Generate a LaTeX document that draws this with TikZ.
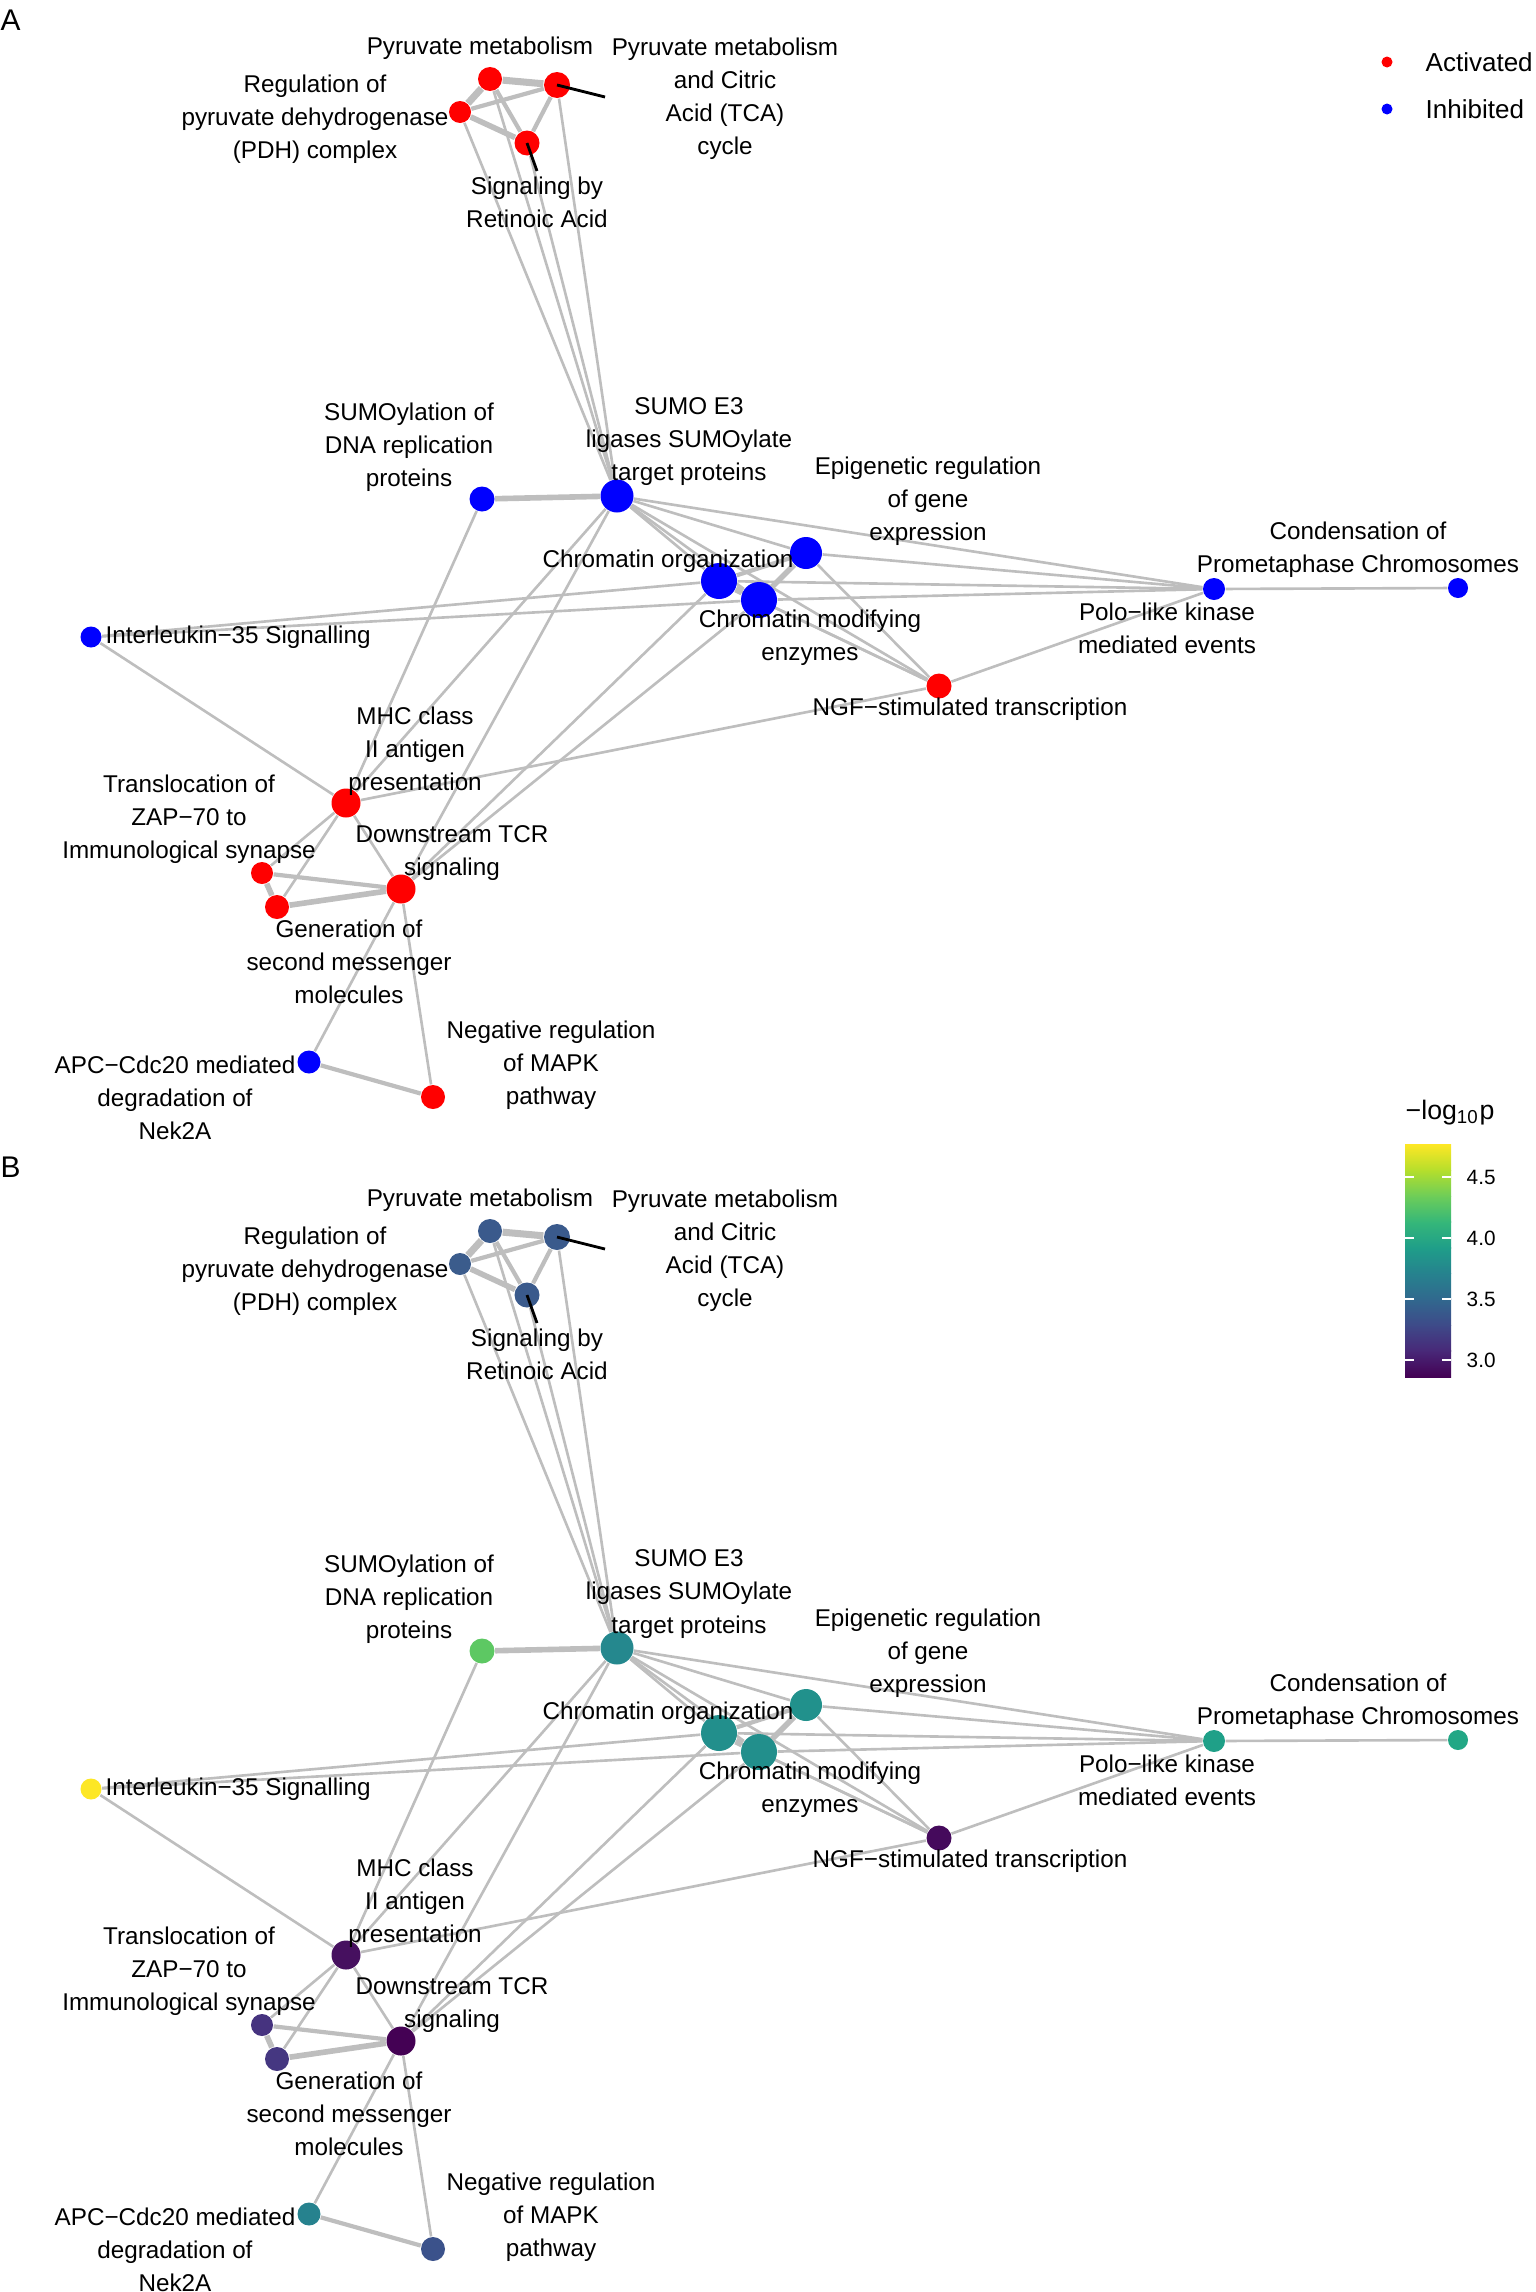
\documentclass[tikz,border=0pt]{standalone}
\usepackage{fontspec}
\setmainfont{Liberation Sans}
\usetikzlibrary{backgrounds}

% Colours of panel A (activated / inhibited)
\colorlet{Apm}{red}   \colorlet{Apmt}{red}  \colorlet{Apdh}{red}
\colorlet{Ara}{red}   \colorlet{Angf}{red}  \colorlet{Amhc}{red}
\colorlet{Azap}{red}  \colorlet{Agsm}{red}  \colorlet{Atcr}{red}
\colorlet{Amapk}{red}
\colorlet{Asdna}{blue} \colorlet{Asumo}{blue} \colorlet{Aepi}{blue}
\colorlet{Aco}{blue}   \colorlet{Acm}{blue}   \colorlet{Aplk}{blue}
\colorlet{Acpc}{blue}  \colorlet{Ail}{blue}   \colorlet{Aapc}{blue}
% Colours of panel B (-log10 p, viridis)
\definecolor{Bpm}{HTML}{3A5A8C}   \definecolor{Bpmt}{HTML}{3A5A8C}
\definecolor{Bpdh}{HTML}{3B5C8C}  \definecolor{Bra}{HTML}{3A5A8C}
\definecolor{Bsdna}{HTML}{5DC863} \definecolor{Bsumo}{HTML}{25888E}
\definecolor{Bepi}{HTML}{21918C}  \definecolor{Bco}{HTML}{228F8C}
\definecolor{Bcm}{HTML}{228F8C}   \definecolor{Bplk}{HTML}{1FA088}
\definecolor{Bcpc}{HTML}{22A785}  \definecolor{Bil}{HTML}{FDE725}
\definecolor{Bngf}{HTML}{450A5C}  \definecolor{Bmhc}{HTML}{46105F}
\definecolor{Bzap}{HTML}{46337F}  \definecolor{Bgsm}{HTML}{453781}
\definecolor{Btcr}{HTML}{440154}  \definecolor{Bapc}{HTML}{26828E}
\definecolor{Bmapk}{HTML}{3B528B}
% viridis stops for the colour bar
\definecolor{vir0}{HTML}{440154} \definecolor{vir1}{HTML}{482878}
\definecolor{vir2}{HTML}{3E4A89} \definecolor{vir3}{HTML}{31688E}
\definecolor{vir4}{HTML}{26828E} \definecolor{vir5}{HTML}{1F9E89}
\definecolor{vir6}{HTML}{35B779} \definecolor{vir7}{HTML}{6DCD59}
\definecolor{vir8}{HTML}{B4DE2C} \definecolor{vir9}{HTML}{FDE725}
\definecolor{linkgray}{HTML}{BEBEBE}

\tikzset{pw/.style={circle, inner sep=0pt, draw=none},
         link/.style={draw=linkgray, line width=0.75pt},
         leader/.style={draw=black, line width=0.8pt},
         lab/.style={inner sep=0pt, align=center,
                     font=\fontsize{6.9}{9.4}\selectfont}}

% One enrichment network, #1 = panel prefix
\newcommand{\pathnet}[1]{%
  % Draw the pathways
  \node[pw, minimum size=0.24cm, fill=#1pm]   at (4.90,-0.79)  (#1pm)   {};
  \node[pw, minimum size=0.26cm, fill=#1pmt]  at (5.57,-0.85)  (#1pmt)  {};
  \node[pw, minimum size=0.22cm, fill=#1pdh]  at (4.60,-1.12)  (#1pdh)  {};
  \node[pw, minimum size=0.25cm, fill=#1ra]   at (5.27,-1.43)  (#1ra)   {};
  \node[pw, minimum size=0.25cm, fill=#1sdna] at (4.82,-4.99)  (#1sdna) {};
  \node[pw, minimum size=0.33cm, fill=#1sumo] at (6.17,-4.96)  (#1sumo) {};
  \node[pw, minimum size=0.32cm, fill=#1epi]  at (8.06,-5.53)  (#1epi)  {};
  \node[pw, minimum size=0.36cm, fill=#1co]   at (7.19,-5.81)  (#1co)   {};
  \node[pw, minimum size=0.36cm, fill=#1cm]   at (7.59,-6.00)  (#1cm)   {};
  \node[pw, minimum size=0.22cm, fill=#1plk]  at (12.14,-5.89) (#1plk)  {};
  \node[pw, minimum size=0.20cm, fill=#1cpc]  at (14.58,-5.88) (#1cpc)  {};
  \node[pw, minimum size=0.21cm, fill=#1il]   at (0.91,-6.37)  (#1il)   {};
  \node[pw, minimum size=0.25cm, fill=#1ngf]  at (9.39,-6.86)  (#1ngf)  {};
  \node[pw, minimum size=0.29cm, fill=#1mhc]  at (3.46,-8.03)  (#1mhc)  {};
  \node[pw, minimum size=0.22cm, fill=#1zap]  at (2.62,-8.73)  (#1zap)  {};
  \node[pw, minimum size=0.24cm, fill=#1gsm]  at (2.77,-9.07)  (#1gsm)  {};
  \node[pw, minimum size=0.29cm, fill=#1tcr]  at (4.01,-8.89)  (#1tcr)  {};
  \node[pw, minimum size=0.23cm, fill=#1apc]  at (3.09,-10.62) (#1apc)  {};
  \node[pw, minimum size=0.24cm, fill=#1mapk] at (4.33,-10.97) (#1mapk) {};
  % Connect the pathways
  \begin{scope}[on background layer]
    \draw[link, line width=2pt]
      (#1pm)   edge (#1pmt)
      (#1pm)   edge (#1pdh)
      (#1co)   edge (#1cm);
    \draw[link, line width=1.6pt]
      (#1pdh)  edge (#1ra)
      (#1sdna) edge (#1sumo)
      (#1zap)  edge (#1gsm)
      (#1gsm)  edge (#1tcr)
      (#1epi)  edge (#1cm);
    \draw[link, line width=1.2pt]
      (#1pdh)  edge (#1pmt)
      (#1pm)   edge (#1ra)
      (#1pmt)  edge (#1ra)
      (#1zap)  edge (#1tcr)
      (#1epi)  edge (#1co)
      (#1apc)  edge (#1mapk);
    \draw[link]
      (#1pdh)  edge (#1sumo)
      (#1pm)   edge (#1sumo)
      (#1ra)   edge (#1sumo)
      (#1pmt)  edge (#1sumo)
      (#1sumo) edge (#1epi)
      (#1sumo) edge (#1co)
      (#1sumo) edge (#1cm)
      (#1sumo) edge (#1ngf)
      (#1sumo) edge (#1plk)
      (#1sumo) edge (#1mhc)
      (#1sumo) edge (#1tcr)
      (#1sdna) edge (#1mhc)
      (#1epi)  edge (#1plk)
      (#1co)   edge (#1plk)
      (#1cm)   edge (#1plk)
      (#1plk)  edge (#1cpc)
      (#1epi)  edge (#1ngf)
      (#1co)   edge (#1ngf)
      (#1cm)   edge (#1ngf)
      (#1il)   edge (#1co)
      (#1il)   edge (#1cm)
      (#1il)   edge (#1mhc)
      (#1mhc)  edge (#1ngf)
      (#1plk)  edge (#1ngf)
      (#1mhc)  edge (#1zap)
      (#1mhc)  edge (#1gsm)
      (#1mhc)  edge (#1tcr)
      (#1co)   edge (#1tcr)
      (#1cm)   edge (#1tcr)
      (#1tcr)  edge (#1apc)
      (#1tcr)  edge (#1mapk);
  \end{scope}
  % Label leaders
  \coordinate (#1pmttip) at (6.05,-0.97);
  \coordinate (#1ratip)  at (5.37,-1.71);
  \draw[leader] (#1pmt.center) -- (#1pmttip);
  \draw[leader] (#1ra.center) -- (#1ratip);
  % Labels
  \node[lab] at (4.80,-0.48)  (#1pmlab)   {Pyruvate metabolism};
  \node[lab] at (7.25,-0.99)  (#1pmtlab)  {Pyruvate metabolism\\and Citric\\Acid (TCA)\\cycle};
  \node[lab] at (3.15,-1.19)  (#1pdhlab)  {Regulation of\\pyruvate dehydrogenase\\(PDH) complex};
  \node[lab] at (5.37,-2.02)  (#1ralab)   {Signaling by\\Retinoic Acid};
  \node[lab] at (4.09,-4.47)  (#1sdnalab) {SUMOylation of\\DNA replication\\proteins};
  \node[lab] at (6.89,-4.42)  (#1sumolab) {SUMO E3\\ligases SUMOylate\\target proteins};
  \node[lab] at (9.28,-5.01)  (#1epilab)  {Epigenetic regulation\\of gene\\expression};
  \node[lab] at (6.68,-5.61)  (#1colab)   {Chromatin organization};
  \node[lab] at (8.10,-6.38)  (#1cmlab)   {Chromatin modifying\\enzymes};
  \node[lab] at (13.58,-5.50) (#1cpclab)  {Condensation of\\Prometaphase Chromosomes};
  \node[lab] at (11.67,-6.28) (#1plklab)  {Polo−like kinase\\mediated events};
  \node[lab, anchor=west] at (1.05,-6.37) (#1illab) {Interleukin−35 Signalling};
  \node[lab] at (9.70,-7.09)  (#1ngflab)  {NGF−stimulated transcription};
  \node[lab] at (4.15,-7.51)  (#1mhclab)  {MHC class\\II antigen\\presentation};
  \node[lab] at (1.89,-8.19)  (#1zaplab)  {Translocation of\\ZAP−70 to\\Immunological synapse};
  \node[lab] at (4.52,-8.53)  (#1tcrlab)  {Downstream TCR\\signaling};
  \node[lab] at (3.49,-9.62)  (#1gsmlab)  {Generation of\\second messenger\\molecules};
  \node[lab] at (1.75,-10.98) (#1apclab)  {APC−Cdc20 mediated\\degradation of\\Nek2A};
  \node[lab] at (5.51,-10.65) (#1mapklab) {Negative regulation\\of MAPK\\pathway};
}

\begin{document}
\begin{tikzpicture}
  \useasboundingbox (0,0) rectangle (15.35,-22.92);

  % Panel A: direction of change
  \node[anchor=west, inner sep=0pt, font=\fontsize{8.5}{10}\selectfont] at (0,-0.20) (panelA) {A};
  \pathnet{A}
  % Legend
  \node[pw, minimum size=0.11cm, fill=red]  at (13.87,-0.62) (actdot) {};
  \node[pw, minimum size=0.11cm, fill=blue] at (13.87,-1.09) (inhdot) {};
  \node[anchor=west, inner sep=0pt, font=\fontsize{7.4}{9}\selectfont] at (14.25,-0.62) (actlab) {Activated};
  \node[anchor=west, inner sep=0pt, font=\fontsize{7.4}{9}\selectfont] at (14.25,-1.09) (inhlab) {Inhibited};

  % Panel B: significance
  \node[anchor=west, inner sep=0pt, font=\fontsize{8.5}{10}\selectfont] at (0,-11.67) (panelB) {B};
  \begin{scope}[yshift=-11.52cm]
    \pathnet{B}
  \end{scope}
  % Colour bar
  \node[anchor=west, inner sep=0pt, font=\fontsize{7.6}{9}\selectfont] at (14.05,-11.13) (bartitle) {−log\textsubscript{10}p};
  \foreach \i/\ca/\cb in {0/vir0/vir1, 1/vir1/vir2, 2/vir2/vir3, 3/vir3/vir4, 4/vir4/vir5,
                          5/vir5/vir6, 6/vir6/vir7, 7/vir7/vir8, 8/vir8/vir9}
    \shade[bottom color=\ca, top color=\cb]
      (14.05,{-13.77+0.2578*\i}) rectangle (14.51,{-13.77+0.2578*(\i+1)+0.004});
  \foreach \y/\t in {-13.60/3.0, -12.99/3.5, -12.38/4.0, -11.77/4.5} {
    \draw[white, line width=0.5pt] (14.05,\y) -- (14.14,\y);
    \draw[white, line width=0.5pt] (14.42,\y) -- (14.51,\y);
    \node[anchor=west, inner sep=0pt, font=\fontsize{5.9}{7}\selectfont] at (14.66,\y) {\t};
  }
\end{tikzpicture}
\end{document}
